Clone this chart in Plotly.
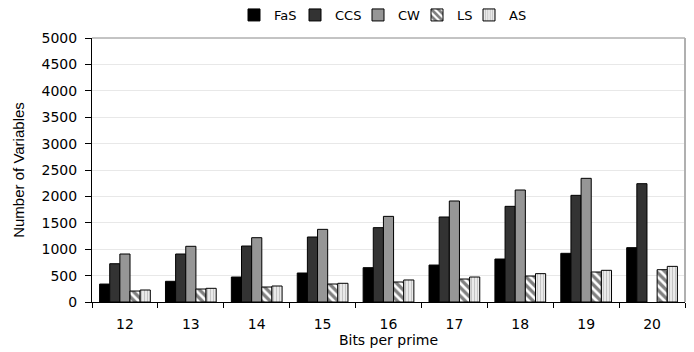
import plotly.graph_objects as go

bits = ["12", "13", "14", "15", "16", "17", "18", "19", "20"]
fas = [340, 392, 473, 549, 650, 700, 814, 922, 1029]
ccs = [725, 909, 1060, 1231, 1408, 1610, 1812, 2020, 2241]
cw = [909, 1055, 1218, 1376, 1622, 1913, 2121, 2342, None]
ls = [208, 246, 284, 341, 379, 435, 492, 568, 612]
as_ = [227, 259, 303, 354, 417, 473, 537, 600, 675]

W, H = 694, 352
outline = dict(color="black", width=1)

fig = go.Figure()
fig.add_bar(name="FaS", x=bits, y=fas, legend="legend",
            marker=dict(color="#000000", line=outline))
fig.add_bar(name="CCS", x=bits, y=ccs, legend="legend2",
            marker=dict(color="#333333", line=outline))
fig.add_bar(name="CW", x=bits, y=cw, legend="legend3",
            marker=dict(color="#969696", line=outline))
fig.add_bar(name="LS", x=bits, y=ls, legend="legend4",
            marker=dict(color="white", line=outline,
                        pattern=dict(shape="\\", fgcolor="black", bgcolor="white",
                                     size=6, solidity=0.55)))
fig.add_bar(name="AS", x=bits, y=as_, legend="legend5",
            marker=dict(color="#dddddd", line=outline,
                        pattern=dict(shape="|", fgcolor="#9a9a9a", bgcolor="#eeeeee",
                                     size=3, solidity=0.4)))

# one small legend per series so the row can be spaced tightly
legend_left_px = [234, 295, 358, 417, 469]
legend_style = dict(orientation="h", xref="container", yref="container",
                    xanchor="left", yanchor="middle", y=1 - 15 / H,
                    font=dict(family="DejaVu Sans", size=13), itemwidth=30,
                    bgcolor="rgba(0,0,0,0)", borderwidth=0)
legends = {}
for i, px in enumerate(legend_left_px):
    key = "legend" if i == 0 else f"legend{i + 1}"
    legends[key] = dict(legend_style, x=px / W)

fig.update_layout(
    width=W, height=H,
    margin=dict(l=92, r=9, t=38, b=50, autoexpand=False),
    plot_bgcolor="white", paper_bgcolor="white",
    barmode="group", bargap=0.23, bargroupgap=0,
    font=dict(family="DejaVu Sans", size=13, color="black"),
    showlegend=True,
    shapes=[
        dict(type="line", xref="paper", yref="paper", x0=0, x1=1, y0=1, y1=1,
             line=dict(color="#888888", width=1)),
        dict(type="line", xref="paper", yref="paper", x0=1, x1=1, y0=0, y1=1,
             line=dict(color="#b0b0b0", width=2)),
    ],
    **legends,
)
fig.update_xaxes(
    showline=True, linecolor="black", linewidth=1, automargin=False,
    ticks="outside", ticklen=5, tickcolor="black", tickson="boundaries",
    tickfont=dict(size=14), ticklabelstandoff=9, showgrid=False,
    title=dict(text="Bits per prime", font=dict(size=14), standoff=4),
)
fig.update_yaxes(
    range=[0, 5000], dtick=500, showline=True, linecolor="black", linewidth=1,
    automargin=False,
    ticks="outside", ticklen=6, tickcolor="black", ticklabelstandoff=5,
    tickfont=dict(size=14), gridcolor="#e8e8e8", gridwidth=1, zeroline=False,
    title=dict(text="Number of Variables", font=dict(family="Liberation Sans", size=15),
               standoff=13),
)

fig.write_html("out.html")
